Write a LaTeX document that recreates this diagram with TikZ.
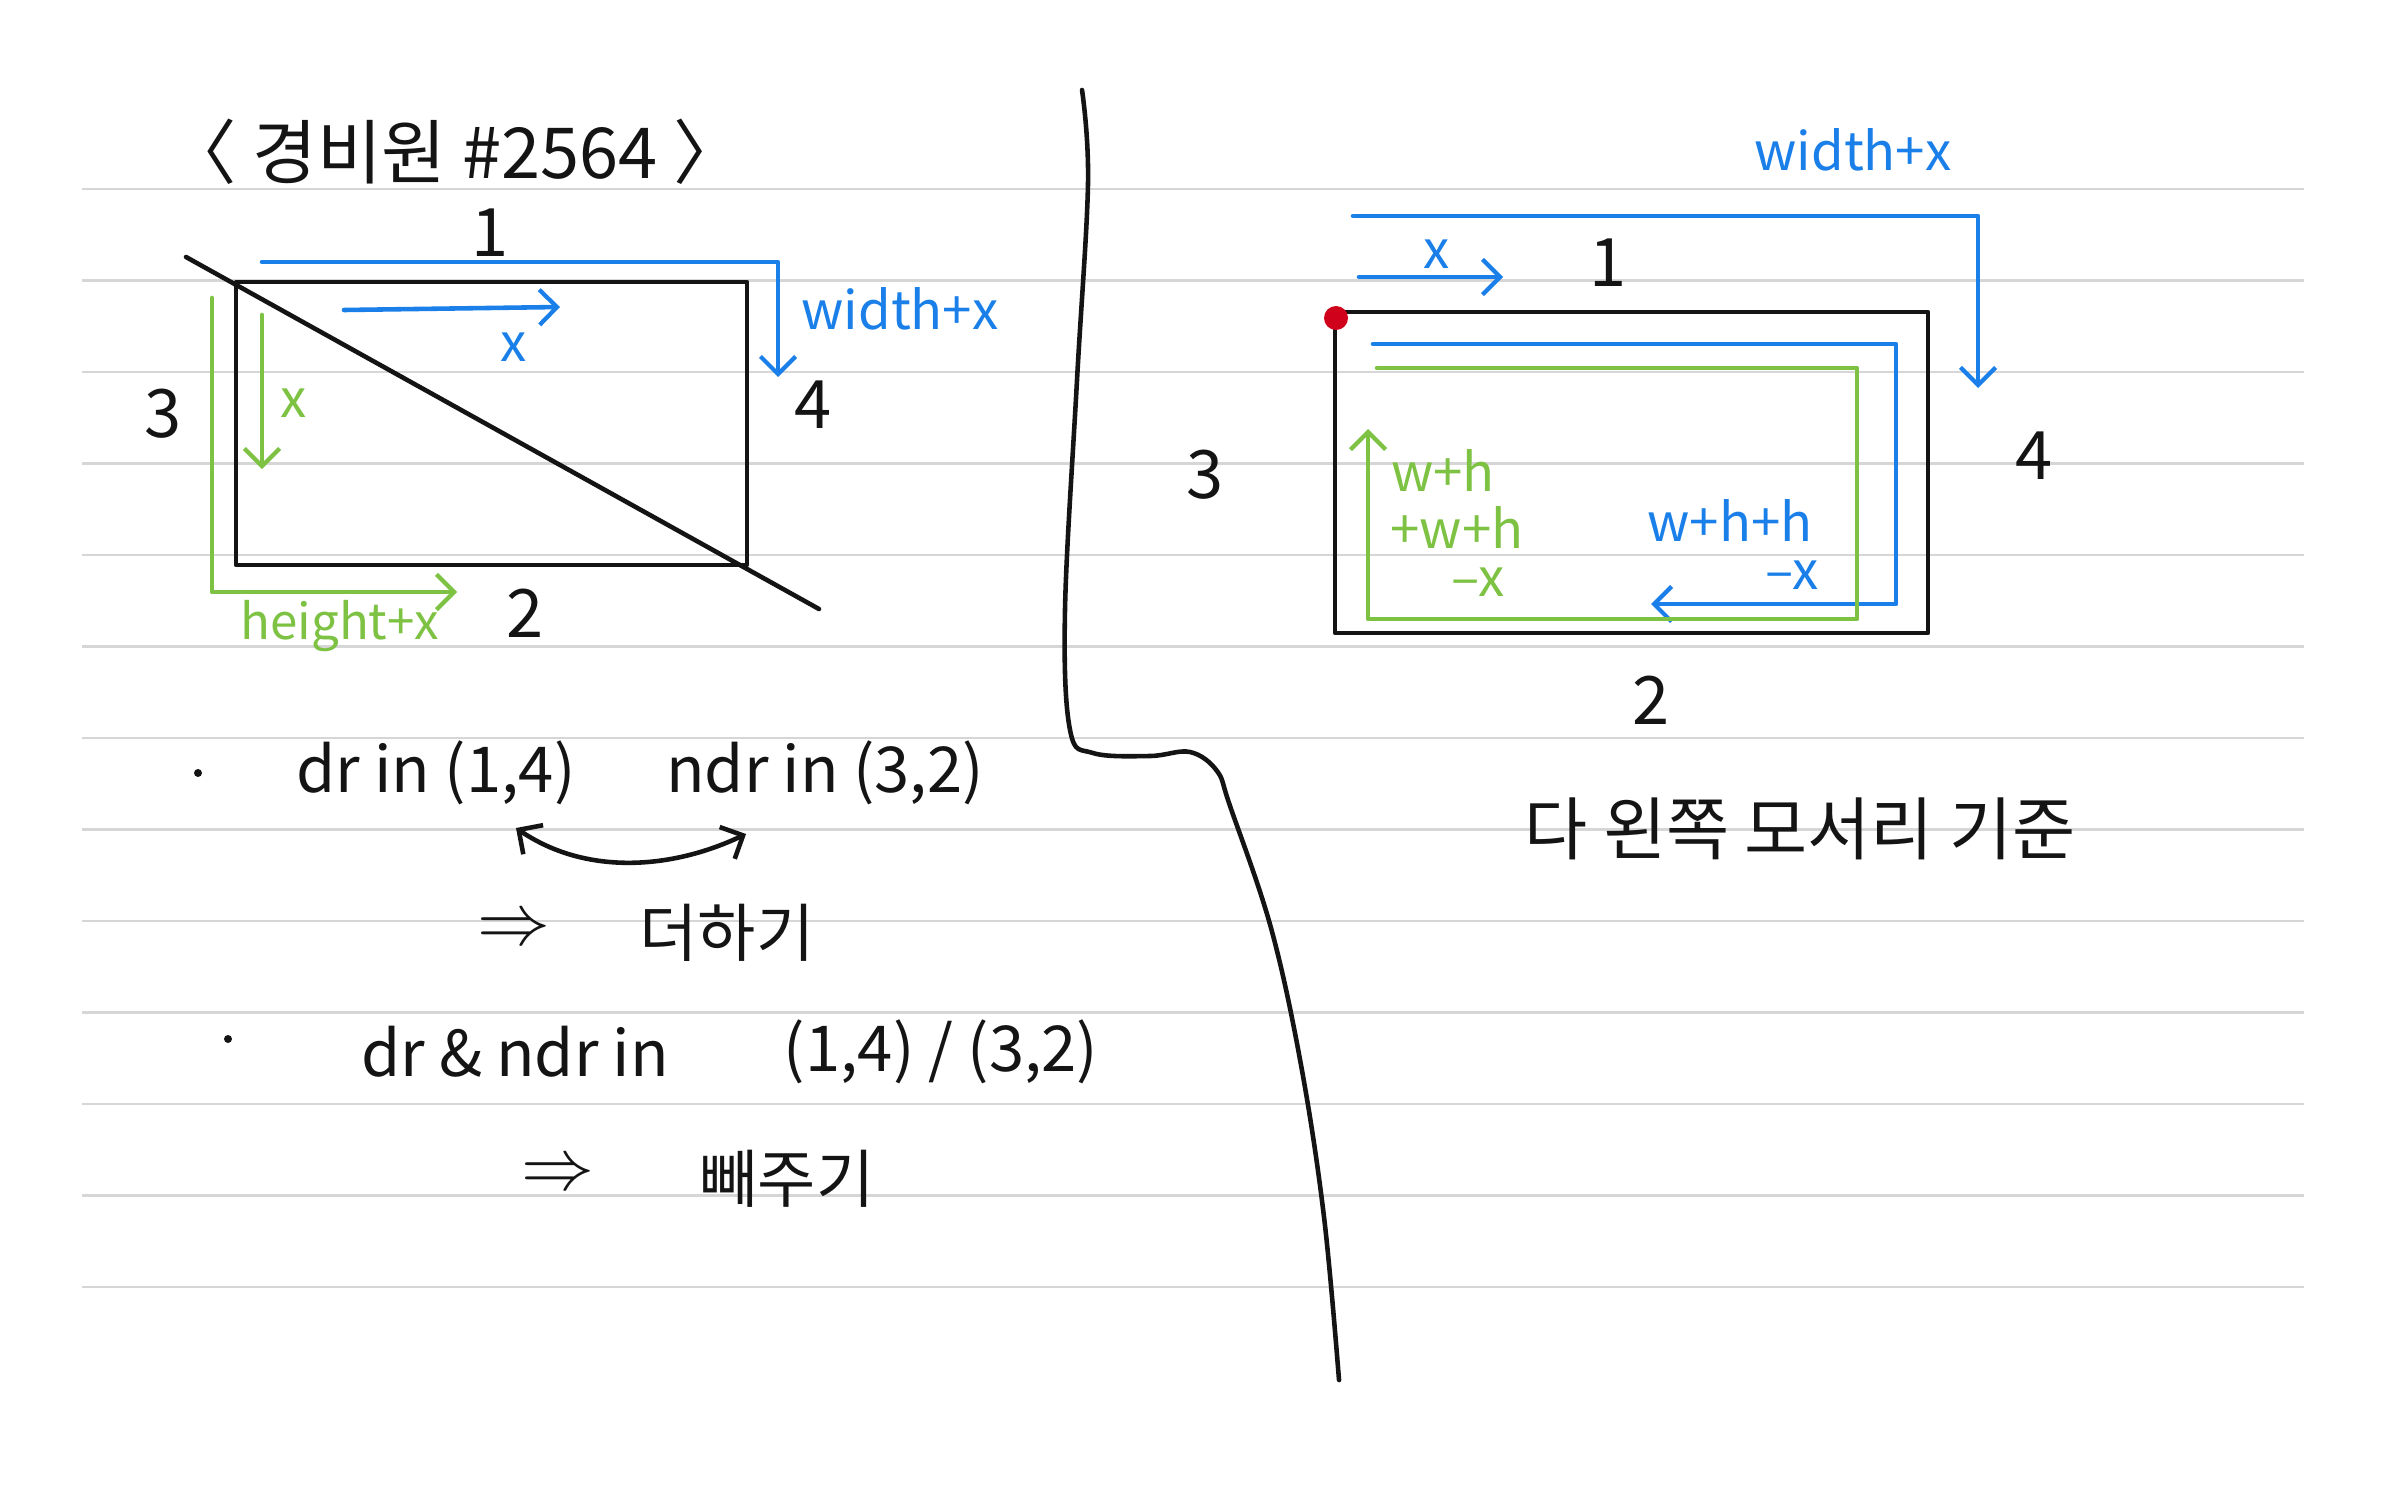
\documentclass[tikz,border=0pt]{standalone}
\usepackage{fontspec}
\setmainfont{Noto Sans CJK KR}
\usetikzlibrary{arrows.meta}
\definecolor{pen}{HTML}{141414}
\definecolor{blu}{HTML}{1A7FE8}
\definecolor{grn}{HTML}{7DC242}
\definecolor{rdot}{HTML}{D0021B}
\definecolor{rule}{HTML}{D6D6D6}
\tikzset{
  ln/.style={line width=1.3pt, color=#1, line join=round, line cap=round},
  ln/.default=pen,
  tip/.style={-{Straight Barb[length=5pt,width=10pt,line width=1.2pt]}},
  tips/.style={{Straight Barb[length=5pt,width=10pt,line width=1.3pt]}-{Straight Barb[length=5pt,width=10pt,line width=1.3pt]}},
  hand/.style={font=\fontsize{#1}{#1}\selectfont, inner sep=0pt, text=pen},
  hand/.default=18,
  num/.style={hand=19},
  blab/.style={hand=15, text=blu},
  glab/.style={hand=15, text=grn},
}
\begin{document}
\begin{tikzpicture}[x=0.01cm,y=-0.01cm]
  \useasboundingbox (0,0) rectangle (2386,1491);
  \fill[white] (0,0) rectangle (2386,1491);
  % ruled paper
  \foreach \i in {0,...,12} \draw[rule,line width=0.7pt] (82,{189+91.5*\i}) -- (2304,{189+91.5*\i});
  % title
  \node[hand=20] (title) at (455,152) {〈 경비원 \#2564 〉};
  % left: rectangle cut by the diagonal
  \draw[ln] (236,282) rectangle (747,565);
  \draw[ln] (186,257) -- (819,609);
  \draw[ln=blu,tip] (262,262) -- (778,262) -- (778,377);
  \draw[ln=blu,tip] (344,310) -- (560,307);
  \draw[ln=grn,tip] (212,298) -- (212,592) -- (457,592);
  \draw[ln=grn,tip] (262,315) -- (262,469);
  \node[num] (l1) at (490,233) {1};
  \node[num] (l2) at (525,613) {2};
  \node[num] (l3) at (163,414) {3};
  \node[num] (l4) at (813,405) {4};
  \node[blab] (lx) at (514,347) {x};
  \node[blab] (lwx) at (900,309) {width+x};
  \node[glab] (ly) at (294,403) {x};
  \node[glab,hand=14,text=grn] (lhx) at (340,626) {height+x};
  % left: notes
  \fill[pen] (198,773) circle (4);
  \node[hand] (dr) at (436,773) {dr in (1,4)};
  \node[hand] (ndr) at (825,773) {ndr in (3,2)};
  \coordinate (swa) at (516,828);
  \coordinate (swb) at (746,834);
  \draw[ln,tips] (swa) .. controls (585,875) and (670,870) .. (swb);
  \node[hand=20] (im1) at (514,931) {$\Rightarrow$};
  \node[hand] (add) at (727,933) {더하기};
  \fill[pen] (228,1039) circle (4);
  \node[hand] (both) at (515,1052) {dr \& ndr in};
  \node[hand] (pairs) at (941,1052) {(1,4) / (3,2)};
  \node[hand=20] (im2) at (558,1176) {$\Rightarrow$};
  \node[hand] (sub) at (787,1179) {빼주기};
  % divider
  \draw[ln] plot[smooth,tension=0.6] coordinates {(1082,90) (1088,183) (1077,380) (1065,609)
    (1070,730) (1093,753) (1150,756) (1190,752) (1217,771) (1230,806) (1271,928)
    (1301,1065) (1324,1217) (1339,1380)};
  % right: walk from the left top corner
  \draw[ln] (1335,312) rectangle (1928,633);
  \fill[rdot] (1336,318) circle (12);
  \draw[ln=blu,tip] (1353,216) -- (1978,216) -- (1978,388);
  \draw[ln=blu,tip] (1359,277) -- (1503,277);
  \draw[ln=blu,tip] (1373,344) -- (1896,344) -- (1896,604) -- (1651,604);
  \draw[ln=grn,tip] (1377,368) -- (1857,368) -- (1857,619) -- (1368,619) -- (1368,429);
  \node[num] (r1) at (1608,263) {1};
  \node[num] (r2) at (1651,700) {2};
  \node[num] (r3) at (1205,475) {3};
  \node[num] (r4) at (2034,456) {4};
  \node[blab] (rx) at (1437,254) {x};
  \node[blab] (rwx) at (1853,150) {width+x};
  \node[glab] (g1) at (1443,470) {w+h};
  \node[glab] (g2) at (1457,527) {+w+h};
  \node[glab] (g3) at (1478,582) {–x};
  \node[blab] (b1) at (1730,520) {w+h+h};
  \node[blab] (b2) at (1792,575) {–x};
  \node[hand=19.5] (note) at (1800,829) {다 왼쪽 모서리 기준};
\end{tikzpicture}
\end{document}
